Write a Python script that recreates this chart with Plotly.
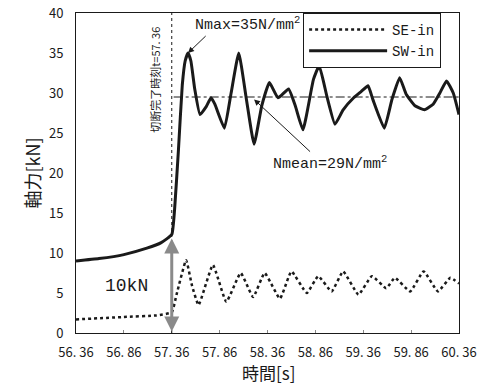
import plotly.graph_objects as go

# ---- data ----
sw_t = [56.36, 56.6, 56.86, 57.1, 57.25, 57.36, 57.39, 57.43, 57.47, 57.50, 57.53, 57.56, 57.60, 57.655,
        57.72, 57.77, 57.81, 57.91, 57.98, 58.06, 58.14, 58.22, 58.30, 58.38, 58.47, 58.58,
        58.65, 58.73, 58.84, 58.90, 58.98, 59.065, 59.15, 59.26, 59.34, 59.41, 59.46, 59.58,
        59.66, 59.74, 59.81, 59.90, 60.00, 60.09, 60.16, 60.23, 60.30, 60.36]
sw_v = [9.0, 9.3, 9.8, 10.6, 11.3, 12.3, 15.5, 22.9, 31.0, 34.0, 35.0, 34.0, 30.5, 27.3,
        28.3, 29.4, 28.6, 25.6, 30.0, 35.0, 29.2, 23.6, 28.4, 31.3, 29.4, 30.5,
        28.4, 25.4, 31.7, 33.4, 29.6, 26.1, 27.9, 29.4, 30.2, 30.9, 29.2, 25.6,
        29.2, 31.9, 29.8, 28.4, 27.9, 28.6, 30.0, 31.5, 30.0, 27.3]

se_t = [56.36, 56.86, 57.2, 57.36, 57.41, 57.51, 57.57, 57.64, 57.79, 57.93, 58.08, 58.21, 58.33,
        58.49, 58.61, 58.77, 58.89, 59.03, 59.15, 59.31, 59.45, 59.60, 59.69, 59.85, 59.99,
        60.14, 60.27, 60.36]
se_v = [1.7, 2.0, 2.2, 2.6, 4.8, 9.1, 6.0, 3.5, 8.5, 3.9, 7.5, 4.5, 7.5,
        4.3, 7.7, 5.0, 7.1, 5.2, 7.7, 4.8, 7.1, 5.6, 6.9, 5.2, 7.7,
        5.2, 6.9, 6.2]

x_ticks = [56.36, 56.86, 57.36, 57.86, 58.36, 58.86, 59.36, 59.86, 60.36]
x_tick_labels = ["56. 36", "56. 86", "57. 36", "57. 86", "58. 36", "58. 86", "59. 36", "59. 86", "60. 36"]
y_ticks = [0, 5, 10, 15, 20, 25, 30, 35, 40]

cut_time = 57.36
n_mean = 29.5
n_max_t, n_max_v = 57.53, 35.0
mean_arrow_t = 58.22

FONT = "Noto Sans CJK JP"
MONO = "Liberation Mono"
INK = "#1a1a1a"

fig = go.Figure()
fig.add_trace(go.Scatter(x=se_t, y=se_v, mode="lines", name="SE-in",
                         line=dict(color=INK, width=2.5, dash="dot", shape="spline", smoothing=0.4)))
fig.add_trace(go.Scatter(x=sw_t, y=sw_v, mode="lines", name="SW-in",
                         line=dict(color=INK, width=3, shape="spline", smoothing=0.4)))

# cut-time vertical dotted line
fig.add_shape(type="line", x0=cut_time, x1=cut_time, y0=0, y1=40, xref="x", yref="y",
              line=dict(color=INK, width=1, dash="dot"))
# mean dash-dot line
fig.add_shape(type="line", x0=cut_time + 0.02, x1=60.36, y0=n_mean, y1=n_mean, xref="x", yref="y",
              line=dict(color=INK, width=1, dash="dashdot"))

# gray double arrow (10kN)
fig.add_annotation(x=cut_time, y=0.2, ax=cut_time, ay=12.0, xref="x", yref="y", axref="x", ayref="y",
                   showarrow=True, arrowhead=2, arrowsize=1, arrowwidth=3, arrowcolor="#8a8a8a",
                   startarrowhead=2, arrowside="end+start", startarrowsize=1, text="")
fig.add_annotation(x=56.89, y=5.9, xref="x", yref="y", text="10kN", showarrow=False,
                   font=dict(family=MONO, size=18, color=INK))

# vertical label
fig.add_annotation(x=57.19, y=31.7, xref="x", yref="y", text="切断完了時刻t=57. 36", textangle=-90,
                   showarrow=False, font=dict(family=FONT, size=11, color=INK))

# Nmax annotation
fig.add_annotation(x=n_max_t, y=n_max_v, xref="x", yref="y", ax=57.73, ay=37.3, axref="x", ayref="y",
                   text="", showarrow=True, arrowhead=2, arrowsize=1.2, arrowwidth=1, arrowcolor=INK)
fig.add_annotation(x=57.58, y=38.6, xref="x", yref="y", xanchor="left", text="Nmax=35N/mm<sup>2</sup>",
                   showarrow=False, font=dict(family=MONO, size=15, color=INK))

# Nmean annotation
fig.add_annotation(x=mean_arrow_t, y=n_mean - 0.3, xref="x", yref="y", ax=58.82, ay=22.5, axref="x", ayref="y",
                   text="", showarrow=True, arrowhead=2, arrowsize=1.2, arrowwidth=1, arrowcolor=INK)
fig.add_annotation(x=58.40, y=21.3, xref="x", yref="y", xanchor="left", text="Nmean=29N/mm<sup>2</sup>",
                   showarrow=False, font=dict(family=MONO, size=15, color=INK))

# x-axis title placed as annotation for exact position
fig.add_annotation(x=0.503, y=-0.1234, xref="paper", yref="paper", text="時間[s]", showarrow=False,
                   xanchor="center", yanchor="middle", font=dict(family=FONT, size=17, color=INK))

fig.update_layout(
    width=496, height=385,
    margin=dict(l=76, r=37, t=13, b=52, autoexpand=False),
    paper_bgcolor="white", plot_bgcolor="white",
    font=dict(family=FONT, color=INK),
    showlegend=True,
    legend=dict(x=0.593, y=1.0, xanchor="left", yanchor="top", bordercolor=INK, borderwidth=1,
                bgcolor="white", font=dict(family=MONO, size=14), itemwidth=78, tracegroupgap=0),
    xaxis=dict(range=[56.36, 60.36], tickvals=x_ticks, ticktext=x_tick_labels, showgrid=False,
               showline=True, linecolor=INK, linewidth=1, mirror=True, ticks="inside", ticklen=3,
               tickcolor="#888", ticklabelstandoff=7, automargin=False,
               tickfont=dict(family=FONT, size=13), zeroline=False),
    yaxis=dict(range=[0, 40], tickvals=y_ticks, showgrid=False, showline=True, linecolor=INK,
               linewidth=1, mirror=True, ticks="", ticklabelstandoff=9, automargin=False,
               tickfont=dict(family=FONT, size=13), zeroline=False,
               title=dict(text="軸力[kN]", font=dict(family=FONT, size=18), standoff=3)),
)

fig.write_html("out.html")
